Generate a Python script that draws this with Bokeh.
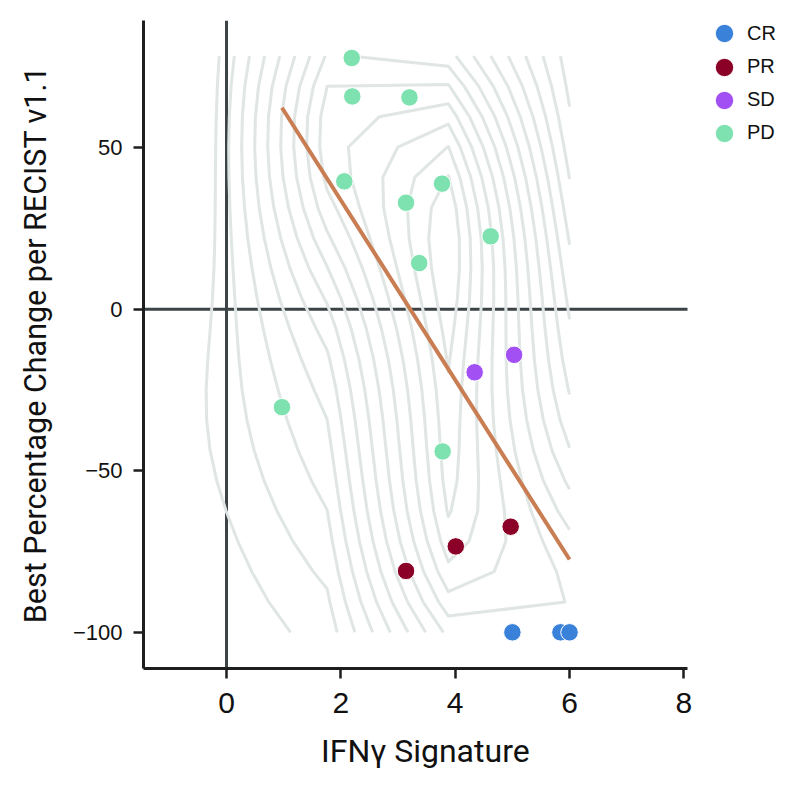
import numpy as np
from bokeh.plotting import figure
from bokeh.models import Range1d, Span, Legend, LegendItem, FixedTicker
from bokeh.embed import file_html
from bokeh.resources import INLINE

# ---- data ----
categories = ["CR", "PR", "SD", "PD"]
colors = ["#3a82d9", "#8b0026", "#a24ff3", "#7de2b0"]

cr_x = [5.00, 5.84, 6.00]
cr_y = [-100.0, -100.0, -100.0]
pr_x = [3.14, 4.01, 4.97]
pr_y = [-81.0, -73.4, -67.3]
sd_x = [4.34, 5.03]
sd_y = [-19.5, -14.1]
pd_x = [2.19, 2.20, 3.20, 2.06, 3.14, 3.77, 4.62, 3.37, 0.97, 3.78]
pd_y = [77.8, 65.9, 65.6, 39.6, 33.0, 38.9, 22.6, 14.3, -30.3, -44.0]

x_ticks = [0, 2, 4, 6, 8]
y_ticks = [-100, -50, 0, 50]
y_tick_labels = ["\u2212100", "\u221250", "0", "50"]
x_title = "IFN\u03b3 Signature"
y_title = "Best Percentage Change per RECIST v1.1"

# axis extents
x_axis_limits = [-1.452, 8.063]
y_axis_limits = [-111.2, 89.4]

# 2-D density settings (coarse in x, as in the reference)
density_x_limits = [-0.36, 6.00]
density_y_limits = [-100.0, 78.4]
density_shape = [4, 20]
density_adjust = [1.3, 1.0]
n_levels = 13

series_x = [cr_x, pr_x, sd_x, pd_x]
series_y = [cr_y, pr_y, sd_y, pd_y]
all_x = np.concatenate([np.asarray(v, float) for v in series_x])
all_y = np.concatenate([np.asarray(v, float) for v in series_y])


def bw_nrd(v):
    q1, q3 = np.percentile(v, [25, 75])
    h = (q3 - q1) / 1.34
    return 4 * 1.06 * min(np.std(v, ddof=1), h) * len(v) ** (-0.2)


hx = bw_nrd(all_x) / 4 * density_adjust[0]
hy = bw_nrd(all_y) / 4 * density_adjust[1]
gx = np.linspace(density_x_limits[0], density_x_limits[1], density_shape[0])
gy = np.linspace(density_y_limits[0], density_y_limits[1], density_shape[1])
wx = np.exp(-0.5 * ((gx[None, :] - all_x[:, None]) / hx) ** 2)
wy = np.exp(-0.5 * ((gy[None, :] - all_y[:, None]) / hy) ** 2)
Z = wy.T @ wx / (len(all_x) * 2 * np.pi * hx * hy)
levels = np.linspace(Z.min(), Z.max(), n_levels + 2)[1:-1]

coef = np.polyfit(all_x, all_y, 1)
fit_x = np.array([all_x.min(), all_x.max()])
fit_y = np.polyval(coef, fit_x)

# ---- figure ----
FRAME_L, FRAME_T = 143, 20
W, H = 786, 790
AXIS_W, FRAME_H = 544, 648          # pixel extent of the drawn axes
PX_PER_X = AXIS_W / (x_axis_limits[1] - x_axis_limits[0])
frame_w = W - FRAME_L
x_end = x_axis_limits[0] + frame_w / PX_PER_X   # room on the right for the legend

p = figure(width=W, height=H, output_backend="svg", toolbar_location=None,
           x_range=Range1d(x_axis_limits[0], x_end),
           y_range=Range1d(*y_axis_limits),
           min_border_left=FRAME_L, min_border_right=0,
           min_border_top=FRAME_T, min_border_bottom=H - FRAME_T - FRAME_H)
p.outline_line_color = None
p.grid.visible = False
p.background_fill_color = "white"
p.border_fill_color = "white"

zero_col = "#3b4346"
p.add_layout(Span(location=0, dimension="height", line_color=zero_col,
                  line_width=3, level="underlay"))
p.line(x_axis_limits, [0, 0], line_color=zero_col, line_width=3)

p.contour(gx, gy, Z, levels, line_color="#dfe6e4", line_width=3,
          line_join="round")

p.line(fit_x, fit_y, line_color="#c97d52", line_width=4)

renderers = []
for cat, col, xs, ys in zip(categories, colors, series_x, series_y):
    r = p.scatter(xs, ys, size=17.5, fill_color=col, line_color="white",
                  line_width=1)
    renderers.append(r)

# one small legend per entry, stacked 33 px apart to the right of the axes
GLYPH = 46
LEG_CX, LEG_CY0, LEG_STEP = 724, 33.3, 33.2
for i, (c, r) in enumerate(zip(categories, renderers)):
    top = LEG_CY0 + LEG_STEP * i - GLYPH / 2
    vy = FRAME_H + FRAME_T - GLYPH - top
    vx = LEG_CX - GLYPH / 2 - FRAME_L
    leg = Legend(items=[LegendItem(label=c, renderers=[r])],
                 location=(vx, vy), orientation="vertical",
                 glyph_width=GLYPH, glyph_height=GLYPH, label_height=GLYPH,
                 spacing=0, padding=0, margin=0, label_standoff=-4,
                 label_text_font="Liberation Sans", label_text_font_size="20px",
                 label_text_color="#111111",
                 border_line_color=None, background_fill_alpha=0)
    p.add_layout(leg)

axis_col = "#1e1e1e"
for ax_ in (p.xaxis[0], p.yaxis[0]):
    ax_.axis_line_color = axis_col
    ax_.axis_line_width = 3
    ax_.major_tick_line_color = axis_col
    ax_.major_tick_line_width = 2.5
    ax_.major_tick_out = 10
    ax_.major_tick_in = 0
    ax_.minor_tick_line_color = None
    ax_.major_label_text_color = "#111111"
    ax_.axis_label_text_color = "#111111"
    ax_.axis_label_text_font = "Roboto"
    ax_.axis_label_text_font_style = "normal"

p.xaxis.bounds = tuple(x_axis_limits)
p.xaxis.ticker = FixedTicker(ticks=x_ticks)
p.yaxis.ticker = FixedTicker(ticks=y_ticks)
p.yaxis.major_label_overrides = {t: l for t, l in zip(y_ticks, y_tick_labels)}
p.xaxis.major_label_text_font = "Liberation Sans"
p.xaxis.major_label_text_font_size = "30px"
p.yaxis.major_label_text_font = "Liberation Sans"
p.yaxis.major_label_text_font_size = "22px"
p.xaxis.major_label_standoff = 14
p.yaxis.major_label_standoff = 11
p.yaxis.axis_label = y_title
p.yaxis.axis_label_text_font_size = "30.5px"
p.yaxis.axis_label_standoff = 17

# x title: the frame is wider than the drawn axis (room for the legend), so
# pad the label on the right with no-break spaces to centre it under the axis
p.xaxis.axis_label = x_title + "\u00a0" * 10
p.xaxis.axis_label_text_font_size = "32px"
p.xaxis.axis_label_standoff = 16

open("out.html", "w").write(file_html(p, INLINE))
